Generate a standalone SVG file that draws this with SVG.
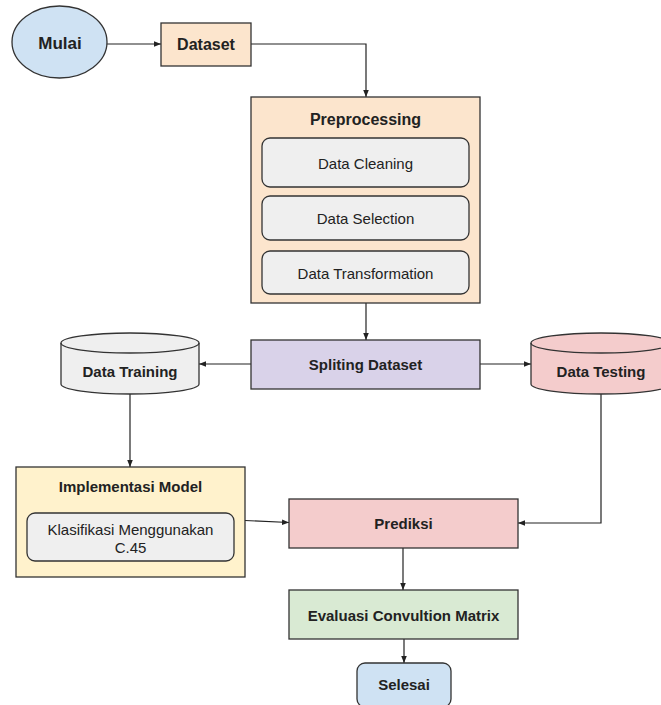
<svg xmlns="http://www.w3.org/2000/svg" width="661" height="705" viewBox="0 0 661 705">
<style>
.s{stroke:#333;stroke-width:1.3}
.t{font-family:"Liberation Sans",Arial,sans-serif;fill:#222;text-anchor:middle;dominant-baseline:central}
.b{font-weight:bold;font-size:15px}
.r{font-size:15px}
.c{fill:none;stroke:#222;stroke-width:1.2}
</style>
<defs>
<marker id="a" viewBox="0 0 10 10" refX="10" refY="5" markerWidth="7" markerHeight="7" orient="auto" markerUnits="userSpaceOnUse">
<path d="M0,1 L10,5 L0,9 z" fill="#222"/>
</marker>
</defs>
<rect width="661" height="705" fill="#fff"/>
<g id="connectors">
<line class="c" x1="107" y1="44" x2="161" y2="44" marker-end="url(#a)"/>
<polyline class="c" points="251,44 366,44 366,97" marker-end="url(#a)"/>
<line class="c" x1="366" y1="303" x2="366" y2="340" marker-end="url(#a)"/>
<line class="c" x1="251" y1="364" x2="199" y2="364" marker-end="url(#a)"/>
<line class="c" x1="480" y1="364" x2="531" y2="364" marker-end="url(#a)"/>
<line class="c" x1="130" y1="394" x2="130" y2="467" marker-end="url(#a)"/>
<line class="c" x1="245" y1="520.5" x2="289" y2="522.5" marker-end="url(#a)"/>
<polyline class="c" points="601,394 601,523 518,523" marker-end="url(#a)"/>
<line class="c" x1="403" y1="548" x2="403" y2="590" marker-end="url(#a)"/>
<line class="c" x1="404" y1="639" x2="404" y2="663" marker-end="url(#a)"/>
</g>
<g id="mulai">
<ellipse class="s" cx="59.5" cy="42" rx="47.5" ry="36" fill="#cfe2f3"/>
<text class="t b" x="60" y="43" style="font-size:17px">Mulai</text>
</g>
<g id="dataset">
<rect class="s" x="161" y="23" width="90" height="43" fill="#fce5cd"/>
<text class="t b" x="206" y="44.5" style="font-size:16px">Dataset</text>
</g>
<g id="preprocessing">
<rect class="s" x="251" y="97" width="229" height="206" fill="#fce5cd"/>
<text class="t b" x="365.5" y="119" style="font-size:16px">Preprocessing</text>
<rect class="s" x="262" y="138" width="207" height="49" rx="8" fill="#efefef"/>
<text class="t r" x="365.5" y="163">Data Cleaning</text>
<rect class="s" x="262" y="196" width="207" height="44" rx="8" fill="#efefef"/>
<text class="t r" x="365.5" y="218">Data Selection</text>
<rect class="s" x="262" y="251" width="207" height="43" rx="8" fill="#efefef"/>
<text class="t r" x="365.5" y="273">Data Transformation</text>
</g>
<g id="spliting">
<rect class="s" x="251" y="340" width="229" height="49" fill="#d9d2e9"/>
<text class="t b" x="365.5" y="364.5">Spliting Dataset</text>
</g>
<g id="training">
<path class="s" d="M61,343 L61,384 A69,10 0 0 0 199,384 L199,343 A69,10 0 0 0 61,343 Z" fill="#efefef"/>
<path class="s" d="M61,343 A69,10 0 0 0 199,343" fill="none"/>
<text class="t b" x="130" y="371">Data Training</text>
</g>
<g id="testing">
<path class="s" d="M531,343 L531,384 A70,10 0 0 0 671,384 L671,343 A70,10 0 0 0 531,343 Z" fill="#f4cccc"/>
<path class="s" d="M531,343 A70,10 0 0 0 671,343" fill="none"/>
<text class="t b" x="601" y="371">Data Testing</text>
</g>
<g id="implementasi">
<rect class="s" x="16" y="467" width="229" height="110" fill="#fff2cc"/>
<text class="t b" x="130.5" y="486">Implementasi Model</text>
<rect class="s" x="27" y="513" width="207" height="48" rx="8" fill="#efefef"/>
<text class="t r" x="130.5" y="529.5">Klasifikasi Menggunakan</text>
<text class="t r" x="130.5" y="547.5">C.45</text>
</g>
<g id="prediksi">
<rect class="s" x="289" y="499" width="229" height="49" fill="#f4cccc"/>
<text class="t b" x="403.5" y="523.5">Prediksi</text>
</g>
<g id="evaluasi">
<rect class="s" x="289" y="590" width="229" height="49" fill="#d9ead3"/>
<text class="t b" x="403.5" y="615">Evaluasi Convultion Matrix</text>
</g>
<g id="selesai">
<rect class="s" x="357" y="663" width="94" height="44" rx="8" fill="#cfe2f3"/>
<text class="t b" x="404" y="684.5">Selesai</text>
</g>
</svg>
